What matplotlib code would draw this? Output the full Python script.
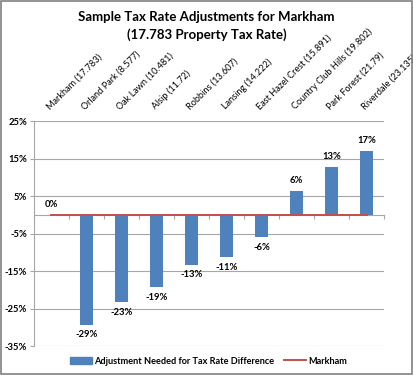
import matplotlib
matplotlib.use("Agg")
import matplotlib.pyplot as plt
from matplotlib.patches import Rectangle
from matplotlib.lines import Line2D
from matplotlib.transforms import blended_transform_factory

plt.rcParams['font.family'] = ['Lato', 'DejaVu Sans']

categories = ["Markham (17.783)", "Orland Park (8.577)", "Oak Lawn (10.481)", "Alsip (11.72)",
              "Robbins (13.607)", "Lansing (14.222)", "East Hazel Crest (15.891)",
              "Country Club Hills (19.802)", "Park Forest (21.79)", "Riverdale (23.135)"]
adjustment = [0.0, -29.3, -23.3, -19.3, -13.3, -11.3, -6.0, 6.4, 12.8, 17.0]
markham = [0.0] * len(categories)
labels = ["0%", "-29%", "-23%", "-19%", "-13%", "-11%", "-6%", "6%", "13%", "17%"]
yticks = [25, 15, 5, -5, -15, -25, -35]

bar_color = "#4F81BD"
line_color = "#C0504D"
grid_color = "#A6A6A6"

fig = plt.figure(figsize=(4.13, 3.75), dpi=100)
fig.patch.set_facecolor("white")
fig.add_artist(Rectangle((0.002, 0.003), 0.995, 0.994, transform=fig.transFigure,
                         fill=False, edgecolor="#808080", linewidth=1.2))

ax = fig.add_axes([0.0823, 0.0773, 0.8477, 0.6000])
x = list(range(len(categories)))
ax.bar(x, adjustment, width=0.39, color=bar_color, zorder=3)
ax.plot(x, markham, color=line_color, linewidth=1.4, zorder=4)

ax.set_xlim(-0.5, len(categories) - 0.5)
ax.set_ylim(-35, 25)
ax.set_yticks(yticks)
ax.set_yticklabels([f"{t}%" for t in yticks], fontsize=6.8, fontweight="bold")
ax.yaxis.grid(True, color=grid_color, linewidth=0.8, zorder=0)
ax.tick_params(axis="y", length=3, color=grid_color, pad=2)

for s in ["top", "right"]:
    ax.spines[s].set_visible(False)
ax.spines["left"].set_color(grid_color)
ax.spines["bottom"].set_position(("data", 0))
ax.spines["bottom"].set_color(grid_color)
ax.set_xticks([i - 0.5 for i in range(len(categories) + 1)])
ax.set_xticklabels([])
ax.tick_params(axis="x", length=3, color=grid_color, direction="out")

# data labels
for xi, v, lab in zip(x, adjustment, labels):
    if v >= 0:
        ax.annotate(lab, (xi, v), xytext=(0, 4), textcoords="offset points",
                    ha="center", va="bottom", fontsize=6.8, fontweight="bold")
    else:
        ax.annotate(lab, (xi, v), xytext=(0, -4), textcoords="offset points",
                    ha="center", va="top", fontsize=6.8, fontweight="bold")

# category labels on top
trans = blended_transform_factory(ax.transData, ax.transAxes)
for xi, c in zip(x, categories):
    ax.annotate(c, (xi, 1.0), xycoords=trans, xytext=(0, 7), textcoords="offset points",
                rotation=45, ha="left", va="bottom", rotation_mode="anchor", fontsize=6.6)

fig.text(0.5, 0.955, "Sample Tax Rate Adjustments for Markham", ha="center", va="center",
         fontsize=9.5, fontweight="bold")
fig.text(0.5, 0.907, "(17.783 Property Tax Rate)", ha="center", va="center",
         fontsize=9.5, fontweight="bold")

handles = [Rectangle((0, 0), 1, 1, color=bar_color),
           Line2D([0], [0], color=line_color, linewidth=1.4)]
fig.legend(handles, ["Adjustment Needed for Tax Rate Difference", "Markham"],
           loc="center", bbox_to_anchor=(0.505, 0.037), ncol=2, frameon=False,
           prop={"size": 6.6, "weight": "bold"}, handlelength=2.4, handleheight=0.7,
           columnspacing=1.0, handletextpad=0.3)

fig.savefig("out.png", dpi=100)
